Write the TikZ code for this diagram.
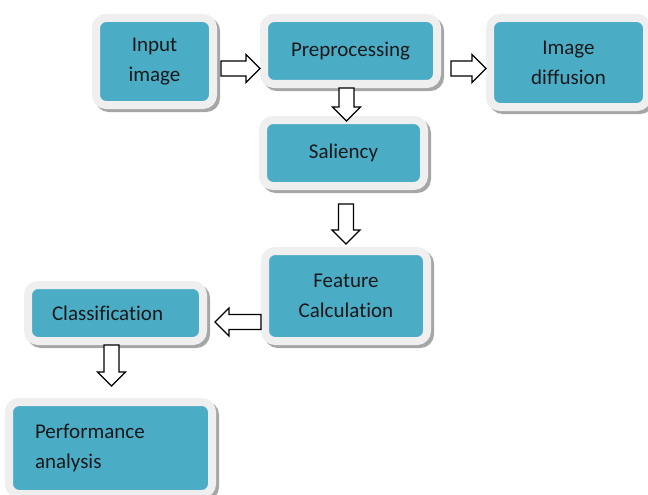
\documentclass[tikz,border=0pt]{standalone}
\usepackage{fontspec}
\setmainfont{Carlito}[Ligatures=NoCommon]
\usepackage{tikz}
\usetikzlibrary{shapes, arrows, positioning, shadows, calc}
\definecolor{stageblue}{HTML}{4BACC6}
\definecolor{framegray}{HTML}{EFEFEF}
\newcommand{\stagefont}{\fontsize{21}{30}\selectfont}
\newcommand{\flow}[2]{%
	\coordinate (ahead) at ($(#2)!14pt!(#1)$);
	\draw[blockarrow] ($(#1)!7.5pt!90:(#2)$) -- ($(ahead)!7.5pt!90:(#2)$) -- ($(ahead)!14pt!90:(#2)$) -- (#2) -- ($(ahead)!14pt!-90:(#2)$) -- ($(ahead)!7.5pt!-90:(#2)$) -- ($(#1)!7.5pt!-90:(#2)$) -- cycle;}
\tikzstyle{stage} = [rectangle, rounded corners=10pt, fill=stageblue, draw=framegray, line width=8pt, align=center, font=\stagefont, text=black!90, drop shadow={shadow xshift=3pt, shadow yshift=-3pt, fill=gray!70, draw=gray!70, line width=8pt, opacity=1}]
\tikzstyle{blockarrow} = [draw=black, fill=white, line width=1.2pt, line join=miter]

\begin{document}
\begin{tikzpicture}[x=1pt, y=-1pt]
	\useasboundingbox (0,0) rectangle (648,495);
	\node [stage, minimum width=117pt, minimum height=87pt] (input) at (154.5,61.5) {Input\\image};
	\node [stage, minimum width=173pt, minimum height=66pt] (pre) at (350.5,51) {Preprocessing};
	\node [stage, minimum width=157pt, minimum height=89pt] (diff) at (568.5,62.5) {Image\\diffusion};
	\node [stage, minimum width=161pt, minimum height=66pt] (sal) at (343.5,153) {Saliency};
	\node [stage, minimum width=162pt, minimum height=90pt] (feat) at (346,296) {Feature\\Calculation};
	\node [stage, minimum width=175pt, minimum height=56pt, text width=127pt, align=left] (class) at (115.5,313) {Classification};
	\node [stage, minimum width=203pt, minimum height=92pt, text width=151pt, align=left] (perf) at (110.5,448) {Performance\\analysis};
	% connectors
	\coordinate (a1) at ([shift={(4pt,-7pt)}]input.east);
	\coordinate (t1) at (pre.west |- a1);
	\coordinate (a2) at ([xshift=10pt]pre.east |- a1);
	\coordinate (t2) at (diff.west |- a2);
	\coordinate (a3) at ([xshift=-4pt]pre.south);
	\coordinate (t3) at ($(a3 |- sal.north)+(0,5)$);
	\coordinate (a4) at ([yshift=-14pt]sal.south -| feat.north);
	\coordinate (t4) at ([yshift=3pt]feat.north);
	\coordinate (a5) at ([yshift=-26pt]feat.west);
	\coordinate (t5) at ($(class.east |- a5)+(8,0)$);
	\coordinate (a6) at ([xshift=-4pt]class.south);
	\coordinate (t6) at ($(a6 |- perf.north)+(0,-12)$);
	\flow{a1}{t1}
	\flow{a2}{t2}
	\flow{a3}{t3}
	\flow{a4}{t4}
	\flow{a5}{t5}
	\flow{a6}{t6}
\end{tikzpicture}
\end{document}
